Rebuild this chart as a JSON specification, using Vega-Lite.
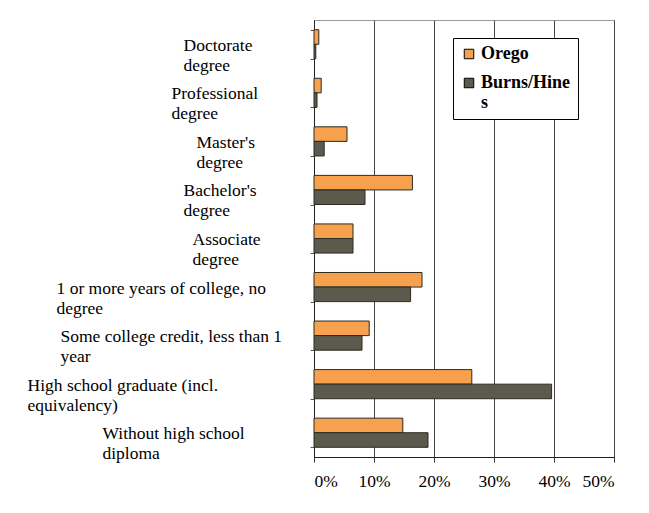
{
  "$schema": "https://vega.github.io/schema/vega-lite/v6.json",
  "width": 300,
  "height": 437,
  "autosize": {"type": "none"},
  "padding": {"left": 314, "top": 20, "right": 35, "bottom": 56},
  "background": "white",
  "data": {
    "values": [
      {"category": "Doctorate degree", "series": "Orego", "value": 0.008},
      {"category": "Doctorate degree", "series": "Burns/Hines", "value": 0.003},
      {"category": "Professional degree", "series": "Orego", "value": 0.012},
      {"category": "Professional degree", "series": "Burns/Hines", "value": 0.005},
      {"category": "Master's degree", "series": "Orego", "value": 0.055},
      {"category": "Master's degree", "series": "Burns/Hines", "value": 0.017},
      {"category": "Bachelor's degree", "series": "Orego", "value": 0.164},
      {"category": "Bachelor's degree", "series": "Burns/Hines", "value": 0.085},
      {"category": "Associate degree", "series": "Orego", "value": 0.065},
      {"category": "Associate degree", "series": "Burns/Hines", "value": 0.065},
      {"category": "1 or more years of college, no degree", "series": "Orego", "value": 0.18},
      {"category": "1 or more years of college, no degree", "series": "Burns/Hines", "value": 0.161},
      {"category": "Some college credit, less than 1 year", "series": "Orego", "value": 0.092},
      {"category": "Some college credit, less than 1 year", "series": "Burns/Hines", "value": 0.08},
      {"category": "High school graduate (incl. equivalency)", "series": "Orego", "value": 0.263},
      {"category": "High school graduate (incl. equivalency)", "series": "Burns/Hines", "value": 0.396},
      {"category": "Without high school diploma", "series": "Orego", "value": 0.148},
      {"category": "Without high school diploma", "series": "Burns/Hines", "value": 0.19}
    ]
  },
  "mark": {"type": "bar", "stroke": "#2a2a20", "strokeWidth": 1},
  "encoding": {
    "y": {
      "field": "category",
      "type": "nominal",
      "sort": [
        "Doctorate degree",
        "Professional degree",
        "Master's degree",
        "Bachelor's degree",
        "Associate degree",
        "1 or more years of college, no degree",
        "Some college credit, less than 1 year",
        "High school graduate (incl. equivalency)",
        "Without high school diploma"
      ],
      "scale": {"paddingInner": 0.4, "paddingOuter": 0.2},
      "axis": {
        "title": null,
        "labelFont": "Liberation Serif",
        "labelFontSize": 17.5,
        "labelColor": "black",
        "labelAlign": "left",
        "labelBaseline": "middle",
        "labelLineHeight": 20,
        "labelOffset": 1,
        "labelPadding": {"expr": "[127, 139, 114, 127, 118, 254, 250, 283, 208][indexof(['Doctorate degree', 'Professional degree', \"Master's degree\", \"Bachelor's degree\", 'Associate degree', '1 or more years of college, no degree', 'Some college credit, less than 1 year', 'High school graduate (incl. equivalency)', 'Without high school diploma'], datum.value)]"},
        "labelLimit": 400,
        "tickSize": 4,
        "tickBand": "extent",
        "tickColor": "#555555",
        "domainColor": "#222222",
        "labelExpr": "[slice(datum.label, 0, lastindexof(datum.label, ' ')), slice(datum.label, lastindexof(datum.label, ' ') + 1)]"
      }
    },
    "yOffset": {"field": "series", "sort": ["Orego", "Burns/Hines"]},
    "x": {
      "field": "value",
      "type": "quantitative",
      "scale": {"domain": [0, 0.5]},
      "axis": {
        "title": null,
        "values": [0, 0.1, 0.2, 0.3, 0.4, 0.5],
        "format": ".0%",
        "labelFont": "Liberation Serif",
        "labelFontSize": 17.5,
        "labelColor": "black",
        "labelPadding": 10,
        "tickSize": 5,
        "tickColor": "#333333",
        "domainColor": "#222222",
        "grid": true,
        "gridColor": "#444444",
        "gridWidth": 1
      }
    },
    "color": {
      "field": "series",
      "type": "nominal",
      "scale": {"domain": ["Orego", "Burns/Hines"], "range": ["#f7a14f", "#5b5a4c"]},
      "legend": {
        "orient": "none",
        "legendX": 139,
        "legendY": 18,
        "title": null,
        "direction": "vertical",
        "labelFont": "Liberation Serif",
        "labelFontWeight": "bold",
        "labelFontSize": 18,
        "labelColor": "black",
        "labelOffset": 3,
        "labelLineHeight": 24,
        "symbolType": "square",
        "symbolSize": 90,
        "symbolStrokeColor": "black",
        "symbolStrokeWidth": 1,
        "strokeColor": "black",
        "fillColor": "white",
        "padding": 7,
        "rowPadding": 11,
        "labelExpr": "datum.label == 'Burns/Hines' ? ['Burns/Hine', 's'] : datum.label"
      }
    }
  },
  "config": {"view": {"stroke": "#9a9a9a"}, "font": "Liberation Serif"}
}
